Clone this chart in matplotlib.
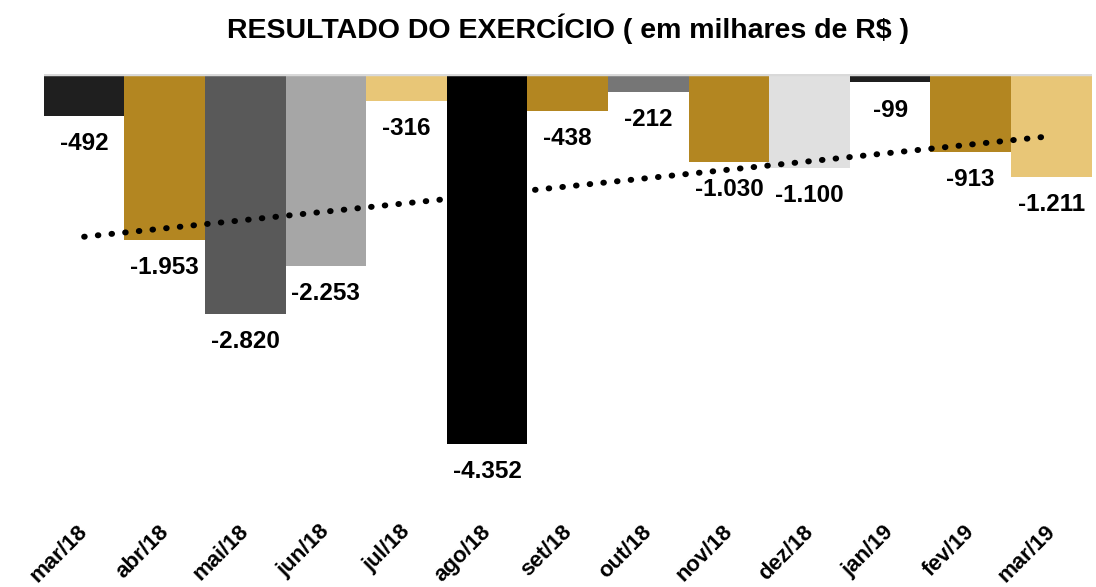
import numpy as np
import matplotlib
matplotlib.use('Agg')
import matplotlib.pyplot as plt
from matplotlib.transforms import ScaledTranslation

plt.rcParams['font.family'] = ['Liberation Sans', 'DejaVu Sans']

# Monthly result (thousands of R$)
months = ['mar/18', 'abr/18', 'mai/18', 'jun/18', 'jul/18', 'ago/18', 'set/18',
          'out/18', 'nov/18', 'dez/18', 'jan/19', 'fev/19', 'mar/19']
values = [-492, -1953, -2820, -2253, -316, -4352, -438,
          -212, -1030, -1100, -99, -913, -1211]
labels = ['-492', '-1.953', '-2.820', '-2.253', '-316', '-4.352', '-438',
          '-212', '-1.030', '-1.100', '-99', '-913', '-1.211']
colors = ['#1F1F1F', '#B38621', '#595959', '#A6A6A6', '#E8C677', '#000000', '#B38621',
          '#767676', '#B38621', '#E0E0E0', '#1F1F1F', '#B38621', '#E8C677']

fig = plt.figure(figsize=(10.96, 5.87), dpi=100)
ax = fig.add_axes([0.040, 0.164, 0.956, 0.710])

x = np.arange(len(months))
ax.bar(x, values, width=1.0, color=colors, zorder=2)
ax.axhline(0, color='#D9D9D9', linewidth=2.5, zorder=3)

# value labels under each bar
for xi, v, lab in zip(x, values, labels):
    ax.annotate(lab, (xi, v), xytext=(0, -20), textcoords='offset points',
                ha='center', va='center', fontsize=17.5, fontweight='bold')

# linear trend line
coef = np.polyfit(x, values, 1)
ax.plot(x, np.polyval(coef, x), linestyle=(0, (0.1, 2.2)), dash_capstyle='round',
        color='black', linewidth=4.3, zorder=4)

ax.set_xlim(-0.5, len(months) - 0.5)
ax.set_ylim(-4900, 0)
ax.set_xticks(x)
ax.set_xticklabels(months, rotation=45, ha='right', va='top', fontsize=16,
                   fontweight='bold', rotation_mode='default')
ax.tick_params(axis='x', length=0, pad=22)
shift = ScaledTranslation(0.08, 0, fig.dpi_scale_trans)
for t in ax.get_xticklabels():
    t.set_transform(t.get_transform() + shift)
ax.set_yticks([])
for s in ax.spines.values():
    s.set_visible(False)

fig.suptitle('RESULTADO DO EXERCÍCIO ( em milhares de R$ )', x=0.518, y=0.977,
             fontsize=20.5, fontweight='bold')

fig.savefig('out.png', dpi=100)
